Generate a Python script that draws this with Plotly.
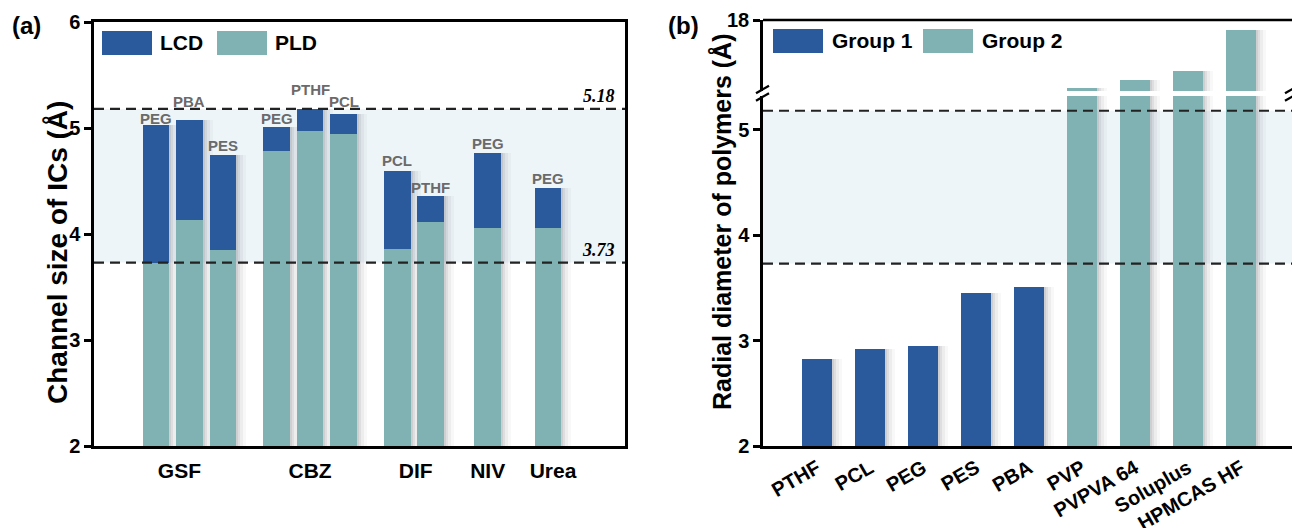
import plotly.graph_objects as go

W, H = 1292, 528

# ---------------- data ----------------
# panel (a)
groups = ["GSF", "CBZ", "DIF", "NIV", "Urea"]
polymers_a = [["PEG", "PBA", "PES"], ["PEG", "PTHF", "PCL"], ["PCL", "PTHF"], ["PEG"], ["PEG"]]
lcd = [[5.03, 5.08, 4.75], [5.01, 5.18, 5.13], [4.59, 4.36], [4.76], [4.43]]
pld = [[3.73, 4.13, 3.85], [4.78, 4.97, 4.94], [3.86, 4.11], [4.06], [4.06]]
upper_limit = 5.18
lower_limit = 3.73

# panel (b)
polymers_b = ["PTHF", "PCL", "PEG", "PES", "PBA", "PVP", "PVPVA 64", "Soluplus", "HPMCAS HF"]
group1_vals = [2.83, 2.92, 2.95, 3.45, 3.51]
group2_vals = [6.03, 7.38, 9.02, 16.29]

# ---------------- style / layout ----------------
BLUE = "#2a5a9c"
TEAL = "#80b1b3"
BAND = "#edf5f9"
FONT = "Liberation Sans"
group_gaps = [1.6, 1.6, 1.7, 1.8]
group_label_offset = [-0.3, 0.0, 0.05, 0.0, 0.15]
label_shift = [6, 18, 9, 8, 19, 13, 11, 8, 10, 10]


def px(x):
    return x / W


def py(y):
    return 1 - y / H


# positions for panel (a)
pos_a, lcd_f, pld_f, lab_f, centers = [], [], [], [], []
cur = 0.0
for gi, names in enumerate(polymers_a):
    start = cur
    for j, n in enumerate(names):
        pos_a.append(cur)
        lcd_f.append(lcd[gi][j])
        pld_f.append(pld[gi][j])
        lab_f.append(n)
        cur += 1
    centers.append((start + cur - 1) / 2 + group_label_offset[gi])
    if gi < len(group_gaps):
        cur += group_gaps[gi] - 1

unit_a = 33.5  # px per x unit in panel a
unit_b = 53.0
wa = 0.8
wb = 0.55

pos_b = list(range(len(polymers_b)))
pos_g1 = pos_b[:len(group1_vals)]
pos_g2 = pos_b[len(group1_vals):]

fig = go.Figure()


def shadow(xs, ys, width, unit, xa, ya):
    for off, op in [(2, 0.09), (4, 0.075), (7, 0.055), (10, 0.035)]:
        fig.add_trace(go.Bar(x=[x + off / unit for x in xs], y=ys, width=width,
                             marker=dict(color=f"rgba(60,60,70,{op})", line=dict(width=0)),
                             xaxis=xa, yaxis=ya, showlegend=False, hoverinfo="skip"))


# panel a
shadow(pos_a, lcd_f, wa, unit_a, "x", "y")
fig.add_trace(go.Bar(x=pos_a, y=lcd_f, width=wa, name="LCD",
                     marker=dict(color=BLUE, line=dict(width=0)), xaxis="x", yaxis="y"))
fig.add_trace(go.Bar(x=pos_a, y=pld_f, width=wa, name="PLD",
                     marker=dict(color=TEAL, line=dict(width=0)), xaxis="x", yaxis="y"))

# panel b lower
shadow(pos_g1, group1_vals, wb, unit_b, "x2", "y2")
shadow(pos_g2, group2_vals, wb, unit_b, "x2", "y2")
fig.add_trace(go.Bar(x=pos_g1, y=group1_vals, width=wb, name="Group 1",
                     marker=dict(color=BLUE, line=dict(width=0)), xaxis="x2", yaxis="y2"))
fig.add_trace(go.Bar(x=pos_g2, y=group2_vals, width=wb, name="Group 2",
                     marker=dict(color=TEAL, line=dict(width=0)), xaxis="x2", yaxis="y2"))
# panel b upper (broken axis)
shadow(pos_g2, group2_vals, wb, unit_b, "x2", "y3")
fig.add_trace(go.Bar(x=pos_g2, y=group2_vals, width=wb, showlegend=False,
                     marker=dict(color=TEAL, line=dict(width=0)), xaxis="x2", yaxis="y3"))

LW = 2.5
tickf = dict(family=FONT, size=20, color="black", weight="bold")

fig.update_layout(
    width=W, height=H, autosize=False,
    margin=dict(l=0, r=0, t=0, b=0, pad=0, autoexpand=False),
    paper_bgcolor="white", plot_bgcolor="white",
    barmode="overlay", bargap=0, showlegend=False,
    xaxis=dict(domain=[px(94), px(625)], range=[-1.85, 14.0], anchor="y", automargin=False,
               tickvals=centers, ticktext=groups, ticks="", showline=True, mirror=True,
               linecolor="black", linewidth=LW, showgrid=False, zeroline=False,
               ticklabelstandoff=4,
               tickfont=dict(family=FONT, size=21, color="black", weight="bold")),
    yaxis=dict(domain=[py(446), py(22)], range=[2, 6], dtick=1, anchor="x", automargin=False,
               ticks="outside", ticklen=7, tickwidth=LW, tickcolor="black",
               showline=True, mirror=True, linecolor="black", linewidth=LW,
               showgrid=False, zeroline=False, tickfont=tickf),
    xaxis2=dict(domain=[px(763), 1.0], range=[(763 - 817) / unit_b, (1292 - 817) / unit_b],
                anchor="y2", automargin=False, tickvals=pos_b, ticktext=polymers_b,
                tickangle=-30, ticks="",
                showline=True, linecolor="black", linewidth=LW, showgrid=False, zeroline=False,
                tickfont=tickf),
    yaxis2=dict(domain=[py(446), py(96)], range=[2, 5.32], tickvals=[2, 3, 4, 5], anchor="x2",
                automargin=False, ticks="outside", ticklen=7, tickwidth=LW, tickcolor="black",
                showline=True, linecolor="black", linewidth=LW, showgrid=False, zeroline=False,
                tickfont=tickf),
    yaxis3=dict(domain=[py(91), py(20)], range=[5.5, 18], tickvals=[18], anchor="x2",
                automargin=False, ticks="outside", ticklen=7, tickwidth=LW, tickcolor="black",
                showline=True, linecolor="black", linewidth=LW, showgrid=False, zeroline=False,
                tickfont=tickf),
)

shapes = []
# bands and dashed limit lines
for xr, yr in [("x domain", "y"), ("x2 domain", "y2")]:
    shapes.append(dict(type="rect", xref=xr, yref=yr, x0=0, x1=1, y0=lower_limit, y1=upper_limit,
                       fillcolor=BAND, line=dict(width=0), layer="below"))
    for v in (upper_limit, lower_limit):
        shapes.append(dict(type="line", xref=xr, yref=yr, x0=0, x1=1, y0=v, y1=v,
                           line=dict(color="#222222", width=2.2, dash="10px,6px"), layer="above"))
# top frame of panel b
shapes.append(dict(type="line", xref="paper", yref="paper", x0=px(763), x1=1.0, y0=py(20), y1=py(20),
                   line=dict(color="black", width=LW)))
# break marks
for cx in (763, 1292):
    for cy in (89.5, 97):
        shapes.append(dict(type="line", xref="paper", yref="paper",
                           x0=px(cx - 7), y0=py(cy + 3.8), x1=px(cx + 6), y1=py(cy - 3.8),
                           line=dict(color="black", width=2.2)))
# legends
for x0, col in [(102, BLUE), (217, TEAL), (773, BLUE), (923, TEAL)]:
    y0 = 31 if x0 < 700 else 29
    shapes.append(dict(type="rect", xref="paper", yref="paper", x0=px(x0), x1=px(x0 + 50),
                       y0=py(y0 + 24), y1=py(y0), fillcolor=col, line=dict(width=0)))
fig.update_layout(shapes=shapes)

ann = []
for (x, y, s) in [(158, 43, "LCD"), (273, 43, "PLD"), (830, 41, "Group 1"), (980, 41, "Group 2")]:
    ann.append(dict(xref="paper", yref="paper", x=px(x), y=py(y), text=s, showarrow=False,
                    xanchor="left", yanchor="middle",
                    font=dict(family=FONT, size=21, color="black", weight="bold")))
for x, y, s, sh in zip(pos_a, lcd_f, lab_f, label_shift):
    ann.append(dict(xref="x", yref="y", x=x, y=y, text=s, showarrow=False, yshift=sh,
                    xanchor="center", yanchor="middle",
                    font=dict(family=FONT, size=15, color="#6a6a6a", weight="bold")))
for v in (upper_limit, lower_limit):
    ann.append(dict(xref="x domain", yref="y", x=0.985, y=v, text=f"{v:.2f}", showarrow=False,
                    xanchor="right", yanchor="bottom", yshift=1,
                    font=dict(family="Liberation Serif", size=18, color="black",
                              weight="bold", style="italic")))
for (x, s) in [(27, "(a)"), (683, "(b)")]:
    ann.append(dict(xref="paper", yref="paper", x=px(x), y=py(25), text=s, showarrow=False,
                    xanchor="center", yanchor="middle",
                    font=dict(family=FONT, size=24, color="black", weight="bold")))
ann.append(dict(xref="paper", yref="paper", x=px(57), y=py(253), text="Channel size of ICs (Å)",
                showarrow=False, textangle=-90, xanchor="center", yanchor="middle",
                font=dict(family=FONT, size=28, color="black", weight="bold")))
ann.append(dict(xref="paper", yref="paper", x=px(722), y=py(222), text="Radial diameter of polymers (Å)",
                showarrow=False, textangle=-90, xanchor="center", yanchor="middle",
                font=dict(family=FONT, size=25, color="black", weight="bold")))
fig.update_layout(annotations=ann)

fig.write_html("out.html", config={"displayModeBar": False},
               post_script="document.body.style.margin='0';document.body.style.overflow='hidden';")
